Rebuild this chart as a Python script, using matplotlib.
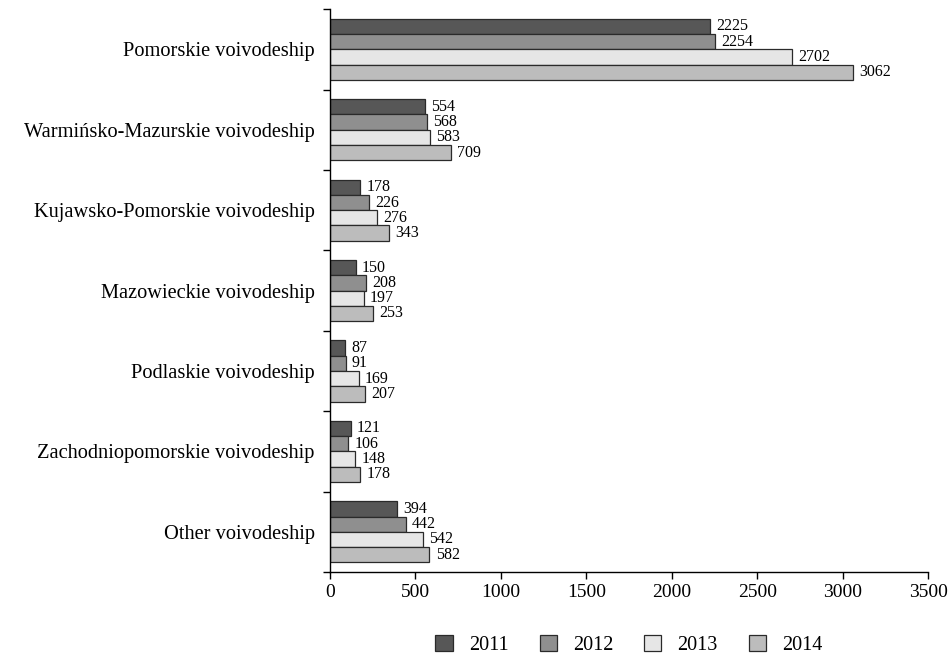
import numpy as np
import matplotlib.pyplot as plt
from matplotlib.ticker import FixedLocator

# ---------- DATA ----------
regions = ["Pomorskie voivodeship", "Warmińsko-Mazurskie voivodeship",
           "Kujawsko-Pomorskie voivodeship", "Mazowieckie voivodeship",
           "Podlaskie voivodeship", "Zachodniopomorskie voivodeship",
           "Other voivodeship"]
years = ["2011", "2012", "2013", "2014"]
v2011 = [2225, 554, 178, 150, 87, 121, 394]
v2012 = [2254, 568, 226, 208, 91, 106, 442]
v2013 = [2702, 583, 276, 197, 169, 148, 542]
v2014 = [3062, 709, 343, 253, 207, 178, 582]
series = [v2011, v2012, v2013, v2014]
colors = ["#575757", "#8f8f8f", "#e6e6e6", "#bcbcbc"]

plt.rcParams['font.family'] = ['Liberation Serif', 'DejaVu Serif']

# ---------- PLOT ----------
fig = plt.figure(figsize=(9.52, 6.54), dpi=100)
ax = fig.add_axes([0.3466, 0.1254, 0.6284, 0.8606])

y = np.arange(len(regions))
h = 0.19
for i, (vals, col, yr) in enumerate(zip(series, colors, years)):
    pos = y - 1.5 * h + i * h
    ax.barh(pos, vals, height=h, color=col, edgecolor="#2a2a2a",
            linewidth=0.9, label=yr)
    for p, v in zip(pos, vals):
        ax.annotate(str(v), (v, p), xytext=(4.5, 0), textcoords="offset points",
                    va="center", ha="left", fontsize=11.5)

ax.set_xlim(0, 3500)
ax.set_ylim(len(regions) - 0.5, -0.5)
ax.set_xticks(np.arange(0, 3501, 500))
ax.set_yticks(y)
ax.set_yticklabels(regions, fontsize=14.7)
ax.yaxis.set_minor_locator(FixedLocator(np.arange(-0.5, len(regions), 1)))
ax.tick_params(axis="y", which="major", length=0, pad=11)
ax.tick_params(axis="y", which="minor", length=5, width=1)
ax.tick_params(axis="x", labelsize=14, length=5, width=1)

for s in ["top", "right"]:
    ax.spines[s].set_visible(False)
ax.spines["left"].set_linewidth(1)
ax.spines["bottom"].set_linewidth(1)

ax.legend(loc="upper center", bbox_to_anchor=(0.5, -0.079), ncol=4,
          frameon=False, fontsize=14.5, handlelength=0.85, handleheight=0.85,
          columnspacing=1.55, handletextpad=0.8)

fig.savefig("out.png", dpi=100)
